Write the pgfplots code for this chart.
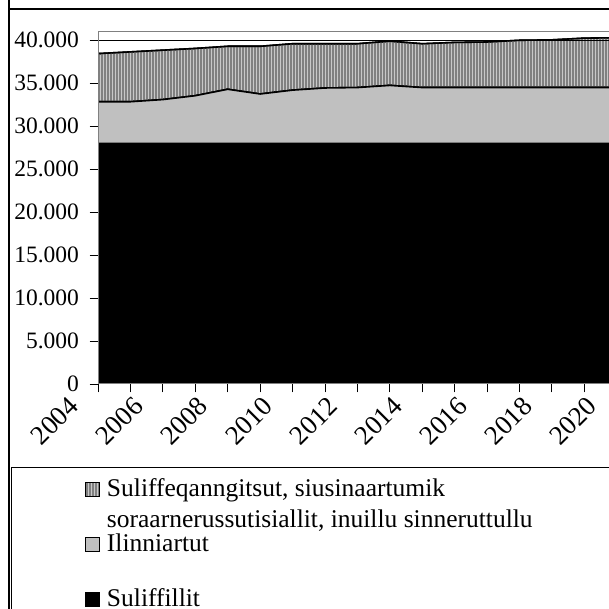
\documentclass[border=0pt]{standalone}
\usepackage{fontspec}
\setmainfont{Liberation Serif}
\usepackage{pgfplots}
\usepackage{pgfplotstable}
\pgfplotsset{compat=1.18}
\usetikzlibrary{patterns.meta}

\pgfplotstableread{
year S I T
2004 28000 4850 5600
2005 28000 4850 5800
2006 28000 5100 5750
2007 28000 5550 5500
2008 28000 6300 5000
2009 28000 5750 5550
2010 28000 6200 5400
2011 28000 6450 5150
2012 28000 6500 5100
2013 28000 6750 5150
2014 28000 6500 5100
2015 28000 6500 5250
2016 28000 6500 5300
2017 28000 6500 5500
2018 28000 6500 5550
2019 28000 6500 5750
2020 28000 6500 5800
2021 28000 6500 5800
}\data

\definecolor{silver}{HTML}{C0C0C0}
\definecolor{hatchbg}{HTML}{C8C8C8}
\definecolor{hatchfg}{HTML}{808080}

\begin{document}
\begin{tikzpicture}[x=1pt,y=1pt]
\useasboundingbox (0,0) rectangle (609,609);
\clip (0,0) rectangle (609,609);
\begin{axis}[
  at={(98pt,225pt)}, anchor=south west,
  scale only axis, width=551.2pt, height=352.3pt,
  xmin=2004, xmax=2021, ymin=0, ymax=41000,
  stack plots=y,
  area style,
  axis line style={draw=gray, line width=1pt},
  xtick={2004,2005,...,2021},
  xticklabels={2004,,2006,,2008,,2010,,2012,,2014,,2016,,2018,,2020,},
  ytick={0,5000,...,40000},
  scaled y ticks=false,
  /pgf/number format/.cd, 1000 sep={.}, assume math mode=true,
  /pgfplots/.cd,
  tick align=outside, major tick length=8.5pt,
  tick style={black, line width=0.9pt},
  xtick pos=bottom, ytick pos=left,
  tick label style={text=black},
  yticklabel style={font=\fontsize{23.5pt}{28pt}\selectfont, xshift=-7pt},
  xticklabel style={font=\fontsize{27pt}{32pt}\selectfont, xshift=-22pt, yshift=-7pt, rotate=45, anchor=east},
  legend style={at={(-0.0236,-0.2328)}, anchor=north west, draw=none, fill=none,
    inner sep=0pt, outer sep=0pt, column sep=7pt, row sep=0pt,
    font=\fontsize{25.5pt}{31pt}\selectfont,
    nodes={inner sep=0pt, text height=30pt, text depth=25pt}},
  legend cell align=left,
  reverse legend,
  legend image code/.code={\draw[#1, draw=black, line width=1pt] (0pt,-2.5pt) rectangle (14pt,11.5pt);},
]
\draw[black, line width=0.9pt] (axis cs:2004,40000) -- (axis cs:2021,40000);
\addplot[draw=black, line width=1.6pt, fill=black] table[x=year, y=S] {\data} \closedcycle;
\addlegendentry{Suliffillit}
\addplot[draw=black, line width=1.6pt, fill=silver] table[x=year, y=I] {\data} \closedcycle;
\addlegendentry{Ilinniartut}
\addplot[draw=black, line width=1.6pt, fill=hatchbg,
  postaction={pattern={Lines[angle=90, distance=3pt, line width=1.1pt]}, pattern color=hatchfg}]
  table[x=year, y=T] {\data} \closedcycle;
\addlegendentry{\smash{\parbox[t]{480pt}{\raggedright Suliffeqanngitsut, siusinaartumik\\ soraarnerussutisiallit, inuillu sinneruttullu}}}
\draw[black, line width=1pt] (rel axis cs:0,0) -- (rel axis cs:0,1);
\end{axis}
\draw[line width=1.3pt] (9,700) -- (9,600) -- (700,600);
\draw[line width=1.3pt] (9,600) -- (9,-10);
\draw[line width=1.1pt] (11.5,-10) -- (11.5,141.5) -- (700,141.5);
\end{tikzpicture}
\end{document}
